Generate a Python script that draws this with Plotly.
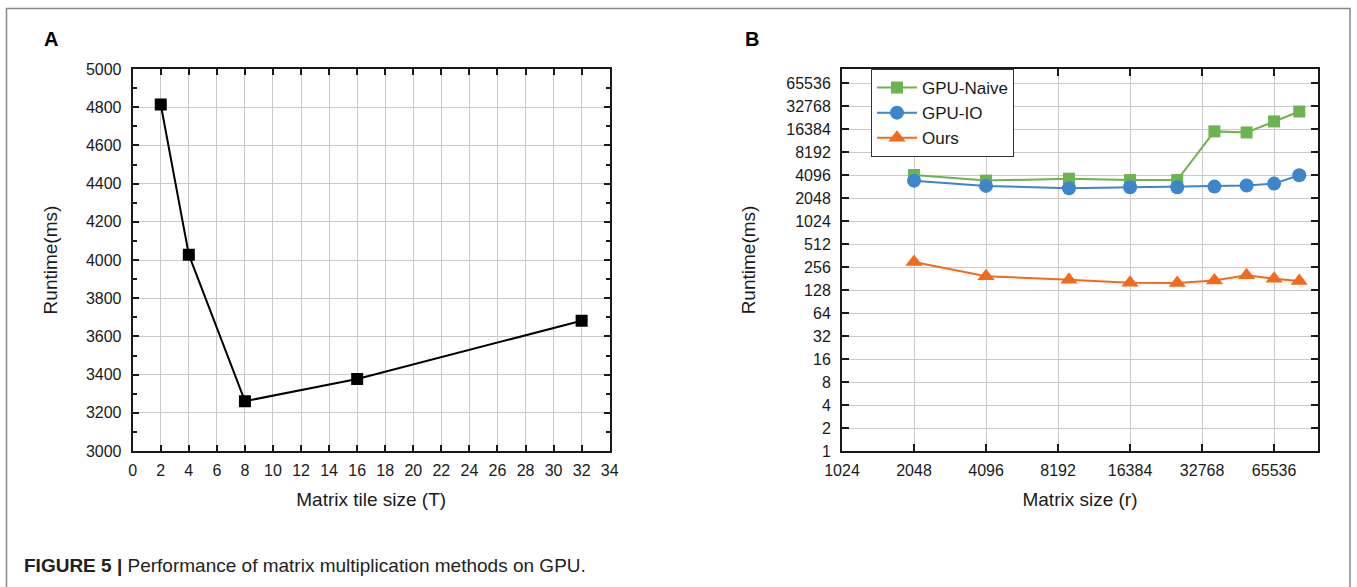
import math
import plotly.graph_objects as go

# ---------------- data ----------------
tile_sizes = [2, 4, 8, 16, 32]
tile_runtime = [4814, 4028, 3261, 3377, 3682]

matrix_sizes = [2048, 4096, 9100, 16384, 25800, 36900, 50300, 65536, 83500]
gpu_naive = [4096, 3460, 3665, 3520, 3520, 15260, 14770, 20600, 27760]
gpu_io = [3458, 2950, 2750, 2830, 2830, 2890, 2980, 3160, 4060]
ours = [298, 194, 175, 159, 158, 170, 200, 180, 168]

a_yticks = list(range(3000, 5001, 200))
b_xticks = [1024, 2048, 4096, 8192, 16384, 32768, 65536]
b_yticks = [2 ** k for k in range(0, 17)]

W, H = 1357, 587
FONT = "Arial, Liberation Sans, Helvetica, sans-serif"

def px(x):
    return x / W

def py(y):
    return 1 - y / H

GREEN = "#6DB34F"
BLUE = "#3D85CC"
ORANGE = "#F26B1D"
GRID = "#c9c9c9"

fig = go.Figure()

fig.add_trace(go.Scatter(
    x=tile_sizes, y=tile_runtime, mode="lines+markers",
    line=dict(color="black", width=2),
    marker=dict(symbol="square", size=12, color="black"),
    xaxis="x", yaxis="y", showlegend=False,
))

fig.add_trace(go.Scatter(
    x=matrix_sizes, y=gpu_naive, mode="lines+markers", name="GPU-Naive",
    line=dict(color=GREEN, width=2),
    marker=dict(symbol="square", size=12, color=GREEN),
    xaxis="x2", yaxis="y2",
))
fig.add_trace(go.Scatter(
    x=matrix_sizes, y=gpu_io, mode="lines+markers", name="GPU-IO",
    line=dict(color=BLUE, width=2),
    marker=dict(symbol="circle", size=14, color=BLUE),
    xaxis="x2", yaxis="y2",
))
fig.add_trace(go.Scatter(
    x=matrix_sizes, y=ours, mode="lines+markers", name="Ours",
    line=dict(color=ORANGE, width=2),
    marker=dict(symbol="triangle-up", size=15, color=ORANGE),
    xaxis="x2", yaxis="y2",
))

axis_common = dict(
    showline=True, linecolor="#1a1a1a", linewidth=2, mirror="allticks",
    ticks="inside", tickcolor="#1a1a1a", tickwidth=1.5,
    showgrid=True, gridcolor=GRID, gridwidth=1, zeroline=False,
    tickfont=dict(family=FONT, size=16, color="#1a1a1a"),
    automargin=False,
)

ydom = [py(451), py(69)]

fig.update_layout(
    width=W, height=H,
    margin=dict(l=0, r=0, t=0, b=0),
    paper_bgcolor="white", plot_bgcolor="white",
    font=dict(family=FONT, color="#1a1a1a"),
    xaxis=dict(
        domain=[px(132.7), px(609.7)], range=[0, 34], dtick=2, tick0=0,
        ticklen=6, anchor="y", ticklabelstandoff=4,
        title=dict(text="Matrix tile size (T)", font=dict(size=19, family=FONT), standoff=14),
        **axis_common,
    ),
    yaxis=dict(
        domain=ydom, range=[3000, 5000], tickvals=a_yticks,
        ticklen=6, anchor="x", ticklabelstandoff=6,
        minor=dict(dtick=100, tick0=3000, ticks="inside", ticklen=4, showgrid=False, tickcolor="#1a1a1a"),
        title=dict(text="Runtime(ms)", font=dict(size=19, family=FONT), standoff=23),
        **axis_common,
    ),
    xaxis2=dict(
        domain=[px(842), px(1318)], type="log",
        range=[math.log10(1024), 5], tickvals=b_xticks,
        ticktext=[str(v) for v in b_xticks],
        ticklen=7, anchor="y2", ticklabelstandoff=4,
        title=dict(text="Matrix size (r)", font=dict(size=19, family=FONT), standoff=14),
        **axis_common,
    ),
    yaxis2=dict(
        domain=ydom, type="log", range=[0, 5], tickvals=b_yticks,
        ticktext=[str(v) for v in b_yticks],
        ticklen=7, anchor="x2", ticklabelstandoff=6,
        title=dict(text="Runtime(ms)", font=dict(size=19, family=FONT), standoff=26),
        **axis_common,
    ),
    legend=dict(
        x=px(871), y=py(69), xanchor="left", yanchor="top",
        bgcolor="white", bordercolor="#333", borderwidth=1,
        font=dict(family=FONT, size=17, color="#1a1a1a"),
        tracegroupgap=0, itemwidth=40,
    ),
    showlegend=True,
)

fig.add_annotation(x=px(51), y=py(39), xref="paper", yref="paper", text="<b>A</b>",
                   xanchor="center", yanchor="middle",
                   showarrow=False, font=dict(family=FONT, size=20, color="black"))
fig.add_annotation(x=px(752), y=py(39), xref="paper", yref="paper", text="<b>B</b>",
                   xanchor="center", yanchor="middle",
                   showarrow=False, font=dict(family=FONT, size=20, color="black"))
fig.add_annotation(x=px(22), y=py(565), xref="paper", yref="paper", xanchor="left", yanchor="middle",
                   text="<b>FIGURE 5 |</b> Performance of matrix multiplication methods on GPU.",
                   showarrow=False, font=dict(family=FONT, size=19, color="#222"))

fig.add_shape(type="rect", xref="paper", yref="paper",
              x0=px(6.5), x1=px(1350), y0=-0.2, y1=py(8.5),
              line=dict(color="#888", width=1.5), fillcolor="rgba(0,0,0,0)", layer="below")

fig.write_html(
    "out.html",
    config={"displayModeBar": False},
    post_script="document.body.style.margin='0';document.body.style.overflow='hidden';",
)
